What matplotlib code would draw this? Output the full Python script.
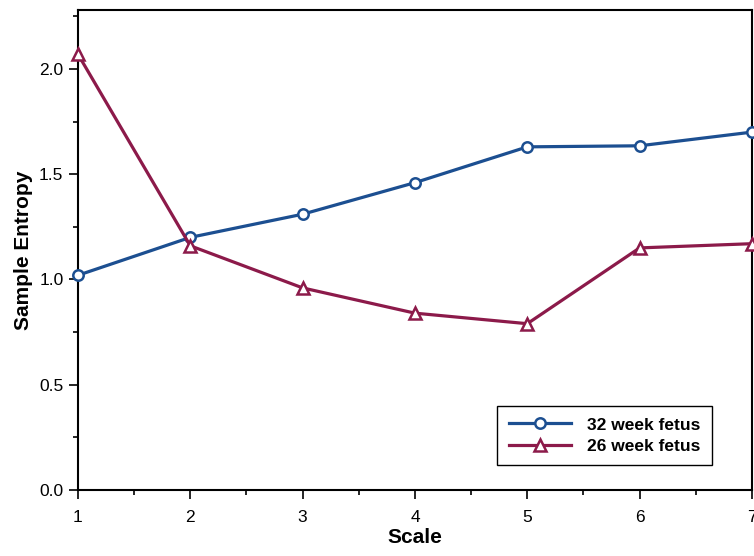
import numpy as np
import matplotlib
matplotlib.use("Agg")
import matplotlib.pyplot as plt
from matplotlib.ticker import MultipleLocator

plt.rcParams['font.family'] = ['Liberation Sans', 'DejaVu Sans']

scale = [1, 2, 3, 4, 5, 6, 7]
entropy_32wk = [1.02, 1.20, 1.31, 1.46, 1.63, 1.635, 1.70]
entropy_26wk = [2.07, 1.16, 0.96, 0.84, 0.79, 1.15, 1.17]

blue = '#1c4f91'
maroon = '#8c1a4a'

fig = plt.figure(figsize=(7.54, 5.56), dpi=100)
ax = fig.add_axes([0.1034, 0.1187, 0.8939, 0.8633])

ax.plot(scale, entropy_32wk, color=blue, lw=2.3, marker='o', ms=7.5,
        mfc='white', mec=blue, mew=1.8, label='32 week fetus', clip_on=False, zorder=3)
ax.plot(scale, entropy_26wk, color=maroon, lw=2.3, marker='^', ms=8,
        mfc='white', mec=maroon, mew=1.8, label='26 week fetus', clip_on=False, zorder=3)

ax.set_xlim(1, 7)
ax.set_ylim(0, 2.28)
ax.xaxis.set_major_locator(MultipleLocator(1))
ax.xaxis.set_minor_locator(MultipleLocator(0.5))
ax.yaxis.set_major_locator(MultipleLocator(0.5))
ax.yaxis.set_minor_locator(MultipleLocator(0.25))
ax.yaxis.set_major_formatter(matplotlib.ticker.FormatStrFormatter('%.1f'))
ax.tick_params(which='major', direction='out', length=6.5, width=1.2, labelsize=12.5)
ax.tick_params(axis='x', which='major', pad=8)
ax.tick_params(axis='y', which='major', pad=4)
ax.tick_params(which='minor', direction='out', length=3.5, width=1.2)
for s in ax.spines.values():
    s.set_linewidth(1.5)

ax.set_xlabel('Scale', fontsize=15, fontweight='bold', labelpad=2)
ax.set_ylabel('Sample Entropy', fontsize=15, fontweight='bold', labelpad=4)

leg = ax.legend(loc='lower right', bbox_to_anchor=(0.94, 0.052), borderaxespad=0,
                fancybox=False, edgecolor='black', framealpha=1,
                prop={'weight': 'bold', 'size': 12.5},
                handlelength=3.6, handletextpad=0.9, borderpad=0.65, labelspacing=0.35)
leg.get_frame().set_linewidth(1.0)

fig.savefig('out.png', dpi=100)
